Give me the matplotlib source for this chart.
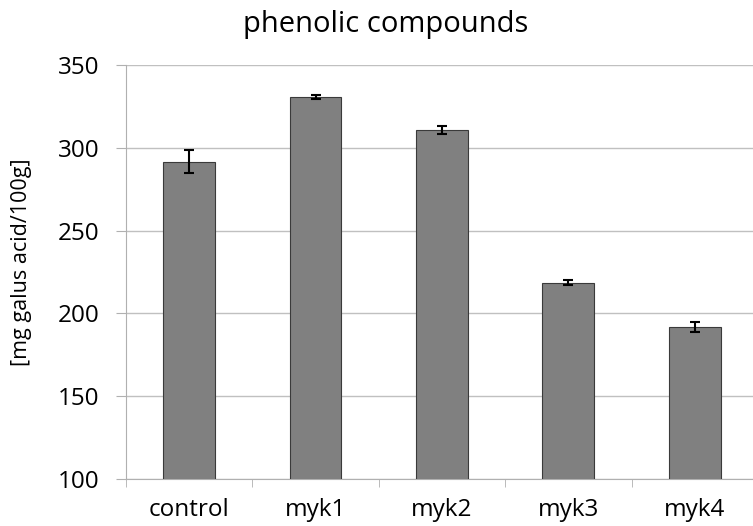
import matplotlib
matplotlib.use("Agg")
import matplotlib.pyplot as plt
import numpy as np

categories = ["control", "myk1", "myk2", "myk3", "myk4"]
values = [291.5, 330.5, 310.8, 218.6, 191.5]
errors = [7.0, 1.2, 2.2, 1.5, 3.0]
yticks = [100, 150, 200, 250, 300, 350]

plt.rcParams['font.family'] = ['Open Sans', 'DejaVu Sans']

fig = plt.figure(figsize=(7.53, 5.26), dpi=100)
ax = fig.add_axes([0.1673, 0.0894, 0.8393, 0.787])

x = np.arange(len(categories))
ax.bar(x, values, width=0.41, color="#808080", edgecolor="#3a3a3a", linewidth=0.8, zorder=3)
ax.errorbar(x, values, yerr=errors, fmt="none", ecolor="black", elinewidth=1.5,
            capsize=3.5, capthick=1.5, zorder=4)

ax.set_ylim(100, 350)
ax.set_xlim(-0.5, len(categories) - 0.5)
ax.set_yticks(yticks)
ax.set_yticklabels([str(t) for t in yticks], fontsize=17.5)
ax.set_xticks(x)
ax.set_xticklabels(categories, fontsize=17.5)
ax.tick_params(axis="x", length=0, pad=14)
ax.set_xticks(np.arange(len(categories) + 1) - 0.5, minor=True)
ax.tick_params(axis="x", which="minor", length=6, color="#b0b0b0", direction="out")
ax.tick_params(axis="y", length=7, color="#b0b0b0", direction="out", pad=12)

ax.yaxis.grid(True, color="#c0c0c0", linewidth=1.0, zorder=0)
ax.set_axisbelow(True)
for s in ["top", "right"]:
    ax.spines[s].set_visible(False)
ax.spines["left"].set_color("#b0b0b0")
ax.spines["bottom"].set_color("#b0b0b0")

fig.text(0.028, 0.502, "[mg galus acid/100g]", fontsize=15.5, rotation=90,
         ha="center", va="center")
fig.text(0.512, 0.953, "phenolic compounds", fontsize=21, ha="center", va="center")

fig.savefig("out.png", dpi=100)
